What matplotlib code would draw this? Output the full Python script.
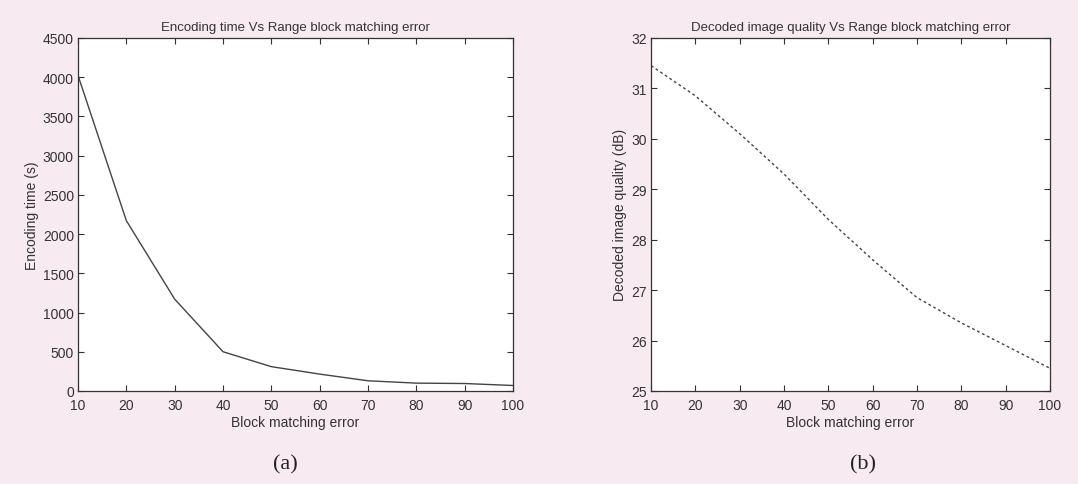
import matplotlib; matplotlib.use("Agg")
import matplotlib.pyplot as plt

BG = "#f7eaf1"
INK = "#333333"

err = [10, 20, 30, 40, 50, 60, 70, 80, 90, 100]
enc_time = [4020, 2170, 1170, 500, 310, 215, 130, 100, 95, 70]
quality = [31.45, 30.85, 30.1, 29.3, 28.4, 27.6, 26.85, 26.35, 25.9, 25.45]

xticks = list(range(10, 101, 10))
yticks_a = list(range(0, 4501, 500))
yticks_b = list(range(25, 33))

plt.rcParams["font.family"] = ["Liberation Sans", "DejaVu Sans"]
fig = plt.figure(figsize=(10.78, 4.85), dpi=100, facecolor=BG)


def style(ax):
    ax.tick_params(direction="in", top=True, right=True, labelsize=10,
                   colors=INK, length=4)
    ax.tick_params(axis="x", pad=5)
    ax.tick_params(axis="y", pad=3)
    for s in ax.spines.values():
        s.set_color(INK)
        s.set_linewidth(0.9)


# (a) encoding time
ax1 = fig.add_axes([0.0724, 0.1918, 0.4035, 0.728])
ax1.plot(err, enc_time, color="#444444", lw=1.0)
ax1.set_xlim(10, 100); ax1.set_ylim(0, 4500)
ax1.set_xticks(xticks); ax1.set_yticks(yticks_a)
ax1.set_title("Encoding time Vs Range block matching error", fontsize=9.5, color=INK, pad=6)
ax1.set_xlabel("Block matching error", fontsize=10, color=INK, labelpad=2)
ax1.set_ylabel("Encoding time (s)", fontsize=10, color=INK, labelpad=3)
style(ax1)

# (b) decoded image quality
ax2 = fig.add_axes([0.604, 0.1918, 0.370, 0.728])
ax2.plot(err, quality, color="#444444", lw=1.0, linestyle=(0, (2, 2)))
ax2.set_xlim(10, 100); ax2.set_ylim(25, 32)
ax2.set_xticks(xticks); ax2.set_yticks(yticks_b)
ax2.set_title("Decoded image quality Vs Range block matching error", fontsize=9.5, color=INK, pad=6)
ax2.set_xlabel("Block matching error", fontsize=10, color=INK, labelpad=2)
ax2.set_ylabel("Decoded image quality (dB)", fontsize=10, color=INK, labelpad=3)
style(ax2)

fig.text(285 / 1078, 1 - 465 / 485, "(a)", family="Liberation Serif", fontsize=16,
         ha="center", va="center", color="#222222")
fig.text(863 / 1078, 1 - 465 / 485, "(b)", family="Liberation Serif", fontsize=16,
         ha="center", va="center", color="#222222")

fig.savefig("out.png", dpi=100, facecolor=BG)
